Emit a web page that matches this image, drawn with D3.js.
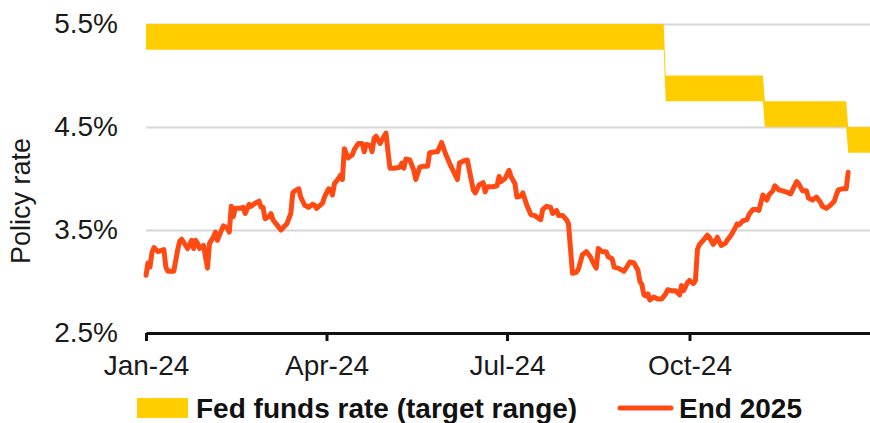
<!DOCTYPE html>
<html>
<head>
<meta charset="utf-8">
<script src="https://cdn.jsdelivr.net/npm/d3@7"></script>
<style>
  body { margin: 0; background: #fff; }
  svg { display: block; font-family: "Liberation Sans", Arial, sans-serif; }
  .tick text { fill: #1a1a1a; }
</style>
</head>
<body>
<div id="graphicContainer"></div>
<script>

// Fed funds target range: start of each step, lower and upper bound
const fedStarts = ["2024-01-01", "2024-09-19", "2024-11-08", "2024-12-20"]
const fedLower = [5.25, 4.75, 4.5, 4.25]
const fedUpper = [5.5, 5.0, 4.75, 4.5]
const fedEnd = "2024-12-31"

// market-implied policy rate for end 2025
const end2025 = [
  ["2024-01-01", 3.06], ["2024-01-02", 3.18], ["2024-01-03", 3.14], ["2024-01-04", 3.28], ["2024-01-05", 3.33],
  ["2024-01-07", 3.29], ["2024-01-10", 3.31], ["2024-01-11", 3.14], ["2024-01-12", 3.10], ["2024-01-15", 3.10],
  ["2024-01-17", 3.31], ["2024-01-18", 3.39], ["2024-01-19", 3.41], ["2024-01-21", 3.35], ["2024-01-22", 3.32],
  ["2024-01-24", 3.40], ["2024-01-25", 3.32], ["2024-01-26", 3.40], ["2024-01-27", 3.37], ["2024-01-28", 3.32],
  ["2024-01-30", 3.35], ["2024-01-31", 3.24], ["2024-02-01", 3.13], ["2024-02-02", 3.37], ["2024-02-04", 3.43],
  ["2024-02-05", 3.48], ["2024-02-06", 3.40], ["2024-02-07", 3.45], ["2024-02-09", 3.54], ["2024-02-11", 3.52],
  ["2024-02-12", 3.48], ["2024-02-13", 3.73], ["2024-02-14", 3.63], ["2024-02-15", 3.71], ["2024-02-17", 3.71],
  ["2024-02-19", 3.72], ["2024-02-20", 3.66], ["2024-02-22", 3.75], ["2024-02-23", 3.73], ["2024-02-25", 3.76],
  ["2024-02-27", 3.78], ["2024-02-28", 3.72], ["2024-02-29", 3.72], ["2024-03-01", 3.61], ["2024-03-03", 3.63],
  ["2024-03-04", 3.66], ["2024-03-05", 3.60], ["2024-03-07", 3.55], ["2024-03-09", 3.50], ["2024-03-10", 3.52],
  ["2024-03-12", 3.56], ["2024-03-14", 3.66], ["2024-03-15", 3.86], ["2024-03-16", 3.88], ["2024-03-18", 3.90],
  ["2024-03-19", 3.82], ["2024-03-21", 3.74], ["2024-03-23", 3.72], ["2024-03-25", 3.75], ["2024-03-26", 3.74],
  ["2024-03-27", 3.71], ["2024-03-30", 3.76], ["2024-03-31", 3.82], ["2024-04-02", 3.90], ["2024-04-03", 3.89],
  ["2024-04-04", 3.84], ["2024-04-05", 3.95], ["2024-04-07", 4.00], ["2024-04-08", 4.03], ["2024-04-09", 3.99],
  ["2024-04-10", 4.29], ["2024-04-11", 4.24], ["2024-04-12", 4.20], ["2024-04-14", 4.23], ["2024-04-15", 4.28],
  ["2024-04-17", 4.34], ["2024-04-19", 4.34], ["2024-04-20", 4.26], ["2024-04-21", 4.33], ["2024-04-23", 4.32],
  ["2024-04-24", 4.26], ["2024-04-25", 4.39], ["2024-04-26", 4.41], ["2024-04-28", 4.34], ["2024-04-30", 4.41],
  ["2024-05-01", 4.44], ["2024-05-02", 4.26], ["2024-05-03", 4.10], ["2024-05-05", 4.10], ["2024-05-08", 4.11],
  ["2024-05-09", 4.15], ["2024-05-10", 4.10], ["2024-05-11", 4.19], ["2024-05-13", 4.18], ["2024-05-15", 4.08],
  ["2024-05-16", 3.99], ["2024-05-18", 4.11], ["2024-05-20", 4.12], ["2024-05-22", 4.12], ["2024-05-23", 4.25],
  ["2024-05-26", 4.26], ["2024-05-27", 4.26], ["2024-05-29", 4.35], ["2024-05-31", 4.24], ["2024-06-02", 4.15],
  ["2024-06-05", 4.03], ["2024-06-06", 3.99], ["2024-06-07", 4.15], ["2024-06-09", 4.17], ["2024-06-11", 4.18],
  ["2024-06-12", 4.08], ["2024-06-14", 3.89], ["2024-06-15", 3.86], ["2024-06-17", 3.94], ["2024-06-19", 3.96],
  ["2024-06-20", 3.87], ["2024-06-21", 3.92], ["2024-06-24", 3.92], ["2024-06-26", 3.93], ["2024-06-27", 4.02],
  ["2024-06-28", 3.97], ["2024-06-30", 4.00], ["2024-07-02", 4.08], ["2024-07-03", 4.02], ["2024-07-05", 3.95],
  ["2024-07-06", 3.82], ["2024-07-08", 3.83], ["2024-07-09", 3.86], ["2024-07-11", 3.74], ["2024-07-13", 3.65],
  ["2024-07-15", 3.64], ["2024-07-18", 3.60], ["2024-07-19", 3.70], ["2024-07-21", 3.73], ["2024-07-23", 3.72],
  ["2024-07-24", 3.66], ["2024-07-26", 3.69], ["2024-07-27", 3.64], ["2024-07-29", 3.64], ["2024-07-31", 3.60],
  ["2024-08-01", 3.56], ["2024-08-03", 3.08], ["2024-08-05", 3.09], ["2024-08-06", 3.12], ["2024-08-08", 3.26],
  ["2024-08-10", 3.29], ["2024-08-12", 3.24], ["2024-08-14", 3.16], ["2024-08-15", 3.13], ["2024-08-16", 3.32],
  ["2024-08-18", 3.29], ["2024-08-20", 3.29], ["2024-08-21", 3.24], ["2024-08-23", 3.22], ["2024-08-24", 3.14],
  ["2024-08-26", 3.13], ["2024-08-29", 3.10], ["2024-08-31", 3.16], ["2024-09-01", 3.19], ["2024-09-03", 3.18],
  ["2024-09-05", 3.11], ["2024-09-06", 3.00], ["2024-09-07", 2.97], ["2024-09-08", 2.87], ["2024-09-09", 2.86],
  ["2024-09-10", 2.88], ["2024-09-11", 2.82], ["2024-09-13", 2.85], ["2024-09-14", 2.84], ["2024-09-15", 2.83],
  ["2024-09-17", 2.83], ["2024-09-19", 2.88], ["2024-09-20", 2.92], ["2024-09-22", 2.91], ["2024-09-24", 2.91],
  ["2024-09-26", 2.87], ["2024-09-27", 2.96], ["2024-09-28", 2.91], ["2024-09-29", 2.95], ["2024-09-30", 2.99],
  ["2024-10-01", 3.01], ["2024-10-03", 2.98], ["2024-10-04", 3.01], ["2024-10-05", 3.31], ["2024-10-06", 3.36],
  ["2024-10-08", 3.40], ["2024-10-10", 3.45], ["2024-10-11", 3.43], ["2024-10-13", 3.36], ["2024-10-14", 3.39],
  ["2024-10-15", 3.43], ["2024-10-17", 3.35], ["2024-10-19", 3.37], ["2024-10-20", 3.40], ["2024-10-22", 3.45],
  ["2024-10-24", 3.52], ["2024-10-25", 3.56], ["2024-10-26", 3.55], ["2024-10-28", 3.59], ["2024-10-30", 3.60],
  ["2024-10-31", 3.65], ["2024-11-02", 3.70], ["2024-11-04", 3.70], ["2024-11-05", 3.69], ["2024-11-07", 3.84],
  ["2024-11-09", 3.79], ["2024-11-10", 3.84], ["2024-11-12", 3.88], ["2024-11-13", 3.93], ["2024-11-15", 3.89],
  ["2024-11-17", 3.88], ["2024-11-20", 3.86], ["2024-11-21", 3.85], ["2024-11-24", 3.97], ["2024-11-25", 3.95],
  ["2024-11-27", 3.88], ["2024-11-29", 3.88], ["2024-11-30", 3.81], ["2024-12-02", 3.79], ["2024-12-04", 3.82],
  ["2024-12-06", 3.77], ["2024-12-07", 3.73], ["2024-12-09", 3.71], ["2024-12-11", 3.74], ["2024-12-13", 3.78],
  ["2024-12-14", 3.84], ["2024-12-15", 3.89], ["2024-12-17", 3.90], ["2024-12-19", 3.90], ["2024-12-20", 4.06]
]

const yTicks = [2.5, 3.5, 4.5, 5.5]
const xTicks = ["2024-01-01", "2024-04-01", "2024-07-01", "2024-10-01"]

const width = 870
const height = 423
const marginleft = 146
const marginright = 0
const margintop = 24
const marginbottom = 90

const yellow = "#ffcd00"
const orange = "#ff4a14"

const parseTime = d3.utcParse("%Y-%m-%d")

const svg = d3.select("#graphicContainer")
  .append("svg")
  .attr("width", width)
  .attr("height", height)

const features = svg.append("g")
  .attr("transform", "translate(" + marginleft + "," + margintop + ")")

const w = width - marginleft - marginright
const h = height - margintop - marginbottom

const x = d3.scaleUtc()
  .domain([parseTime("2024-01-01"), parseTime(fedEnd)])
  .range([0, w])

const y = d3.scaleLinear()
  .domain([2.5, 5.5])
  .range([h, 0])

// gridlines + y labels
features.append("g")
  .attr("class", "y")
  .call(d3.axisLeft(y)
    .tickValues(yTicks)
    .tickSize(-w)
    .tickPadding(28)
    .tickFormat(d => d3.format(".1f")(d) + "%"))
  .call(g => g.select(".domain").remove())
  .call(g => g.selectAll(".tick line").attr("stroke", "#d5d5dc").attr("stroke-width", 2))
  .call(g => g.selectAll(".tick text").attr("font-size", 28).attr("font-family", "Liberation Sans"))

// fed funds band, one day of slope at each cut
const band = []
fedStarts.forEach((s, i) => {
  const start = parseTime(s)
  const stop = i < fedStarts.length - 1 ? d3.utcDay.offset(parseTime(fedStarts[i + 1]), -1) : parseTime(fedEnd)
  band.push({ date: start, lo: fedLower[i], hi: fedUpper[i] })
  band.push({ date: stop, lo: fedLower[i], hi: fedUpper[i] })
})

features.append("path")
  .datum(band)
  .attr("fill", yellow)
  .attr("d", d3.area()
    .x(d => x(d.date))
    .y0(d => y(d.lo))
    .y1(d => y(d.hi)))

// end 2025 line
const datum = end2025.map(d => ({ date: parseTime(d[0]), value: d[1] }))

features.append("path")
  .datum(datum)
  .attr("fill", "none")
  .attr("stroke", orange)
  .attr("stroke-width", 5)
  .attr("stroke-linejoin", "round")
  .attr("stroke-linecap", "round")
  .attr("d", d3.line()
    .x(d => x(d.date))
    .y(d => y(d.value)))

// x axis
features.append("g")
  .attr("class", "x")
  .attr("transform", "translate(0," + h + ")")
  .call(d3.axisBottom(x)
    .tickValues(xTicks.map(parseTime))
    .tickSize(8)
    .tickSizeOuter(0)
    .tickPadding(14)
    .tickFormat(d3.utcFormat("%b-%y")))
  .call(g => g.select(".domain").attr("stroke", "#111").attr("stroke-width", 3))
  .call(g => g.selectAll(".tick line").attr("stroke", "#111").attr("stroke-width", 3))
  .call(g => g.selectAll(".tick text").attr("font-size", 28).attr("font-family", "Liberation Sans"))

// y title
svg.append("text")
  .attr("transform", "translate(30,201) rotate(-90)")
  .attr("text-anchor", "middle")
  .attr("font-size", 27)
  .attr("fill", "#1a1a1a")
  .text("Policy rate")

// legend
const legend = svg.append("g")
  .attr("font-size", 28)
  .attr("font-weight", "bold")
  .attr("fill", "#111")

legend.append("rect")
  .attr("x", 137)
  .attr("y", 398)
  .attr("width", 51)
  .attr("height", 20)
  .attr("fill", yellow)

legend.append("text")
  .attr("x", 196)
  .attr("y", 418)
  .text("Fed funds rate (target range)")

legend.append("line")
  .attr("x1", 620)
  .attr("x2", 671)
  .attr("y1", 408)
  .attr("y2", 408)
  .attr("stroke", orange)
  .attr("stroke-width", 5)
  .attr("stroke-linecap", "round")

legend.append("text")
  .attr("x", 679)
  .attr("y", 418)
  .text("End 2025")

</script>
</body>
</html>
